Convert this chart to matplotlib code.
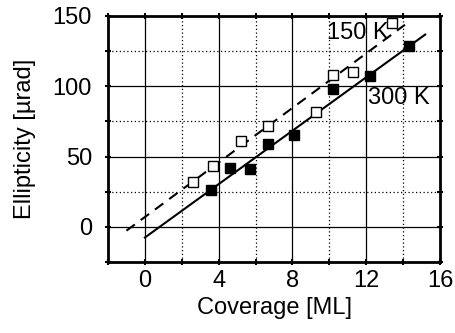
import numpy as np
import matplotlib.pyplot as plt

plt.rcParams["font.family"] = ["Liberation Sans", "DejaVu Sans"]

# 300 K (filled squares)
cov_300 = [3.6, 4.6, 5.7, 6.7, 8.1, 10.2, 12.2, 14.3]
ell_300 = [26, 42, 41, 59, 65, 98, 107, 129]

# 150 K (open squares)
cov_150 = [2.6, 3.7, 5.2, 6.7, 9.3, 10.2, 11.3, 13.4]
ell_150 = [32, 43, 61, 72, 82, 108, 110, 145]

# linear fits
fit_300 = (9.5, -7.6)
fit_150 = (9.7, 7.0)
range_300 = [0, 15.2]
range_150 = [-1, 14.1]

fig = plt.figure(figsize=(4.55, 3.33), dpi=100)
ax = fig.add_axes([0.2374, 0.2132, 0.7296, 0.7388])

ax.set_xlim(-2, 16)
ax.set_ylim(-25, 150)

# grid: solid at major, dotted at minor
for x in [0, 4, 8, 12]:
    ax.axvline(x, color="black", lw=0.9, zorder=1)
for x in [2, 6, 10, 14]:
    ax.axvline(x, color="black", lw=0.9, ls=(0, (1, 2)), zorder=1)
for y in [0, 50, 100]:
    ax.axhline(y, color="black", lw=0.9, zorder=1)
for y in [25, 75, 125]:
    ax.axhline(y, color="black", lw=0.9, ls=(0, (1, 2)), zorder=1)

xs = np.array(range_300)
ax.plot(xs, fit_300[0] * xs + fit_300[1], color="black", lw=1.5, zorder=2)
xs = np.array(range_150)
ax.plot(xs, fit_150[0] * xs + fit_150[1], color="black", lw=1.5,
        ls=(0, (5, 3.5)), zorder=2)

ax.plot(cov_300, ell_300, "s", ms=7, color="black", zorder=3)
ax.plot(cov_150, ell_150, "s", ms=7, mfc="white", mec="black", mew=1.0, zorder=3)

ax.text(9.9, 138, "150 K", fontsize=17, va="center", ha="left", zorder=4)
ax.text(12.1, 92, "300 K", fontsize=17, va="center", ha="left", zorder=4)

ax.set_xticks([0, 4, 8, 12, 16])
ax.set_xticks([-2, 2, 6, 10, 14], minor=True)
ax.set_yticks([0, 50, 100, 150])
ax.set_yticks([-25, 25, 75, 125], minor=True)
ax.tick_params(which="both", direction="inout", length=5, width=1.5,
               top=True, right=True, labelsize=17)
ax.tick_params(axis="x", pad=3)
ax.tick_params(axis="y", pad=9)

for s in ax.spines.values():
    s.set_linewidth(2)

ax.set_xlabel("Coverage [ML]", fontsize=17, labelpad=4)
ax.set_ylabel("Ellipticity [µrad]", fontsize=17, labelpad=12)

fig.savefig("out.png", dpi=100)
